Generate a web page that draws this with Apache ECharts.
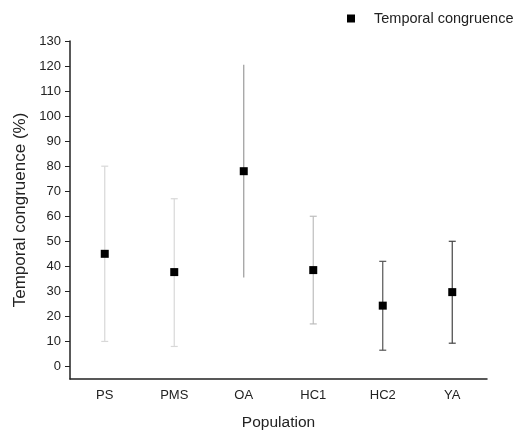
<!DOCTYPE html>
<html><head><meta charset="utf-8">
<script src="https://cdn.jsdelivr.net/npm/echarts@6/dist/echarts.min.js"></script>
<style>html,body{margin:0;padding:0;background:#fff}#c{width:522px;height:431px}</style>
</head><body><div id="c"></div>
<script>
var categories = ['PS','PMS','OA','HC1','HC2','YA'];
var means = [45, 37.7, 78, 38.5, 24.3, 29.7];
var lows = [10, 8, 35.5, 17, 6.5, 9.3];
var highs = [80, 67, 120.5, 60, 42, 50];
var barColors = ['#d8d8d8','#d8d8d8','#9a9a9a','#bdbdbd','#555555','#444444'];
var capWidths = [3.5, 3.5, 0, 3.5, 3.5, 3.5];
var yTicks = [0,10,20,30,40,50,60,70,80,90,100,110,120,130];

var errData = categories.map(function(c,i){return [i, lows[i], highs[i]];});
var chart = echarts.init(document.getElementById('c'));
var font = 'Liberation Sans, Arial, sans-serif';
chart.setOption({
  animation:false,
  textStyle:{fontFamily:font},
  grid:{left:70,right:35,top:41,bottom:52,containLabel:false,outerBoundsMode:'none'},
  legend:{data:['Temporal congruence'],left:342,top:6,icon:'rect',itemWidth:8,itemHeight:8,
    textStyle:{fontSize:14.5,color:'#222',fontFamily:font,padding:[0,0,0,14]}},
  xAxis:{type:'category',data:categories,
    axisLine:{onZero:false,lineStyle:{color:'#222',width:1.5}},
    axisTick:{alignWithLabel:true,length:5,lineStyle:{color:'#222'}},
    axisLabel:{color:'#222',fontSize:13,margin:10,fontFamily:font},
    name:'Population',nameLocation:'middle',nameGap:36,
    nameTextStyle:{fontSize:15.5,color:'#222',fontFamily:font}},
  yAxis:{type:'value',min:-5,max:130,
    splitLine:{show:false},
    axisLine:{show:true,lineStyle:{color:'#222',width:1.5}},
    axisTick:{show:true,length:5,customValues:yTicks,lineStyle:{color:'#222'}},
    axisLabel:{color:'#222',fontSize:13,margin:9,customValues:yTicks,fontFamily:font},
    name:'Temporal congruence (%)',nameLocation:'middle',nameGap:40,
    nameTextStyle:{fontSize:17,color:'#222',fontFamily:font}},
  series:[
    {type:'custom',name:'err',data:errData,z:1,
     renderItem:function(params,api){
       var i=api.value(0);
       var lo=api.coord([i,api.value(1)]);
       var hi=api.coord([i,api.value(2)]);
       var w=capWidths[params.dataIndex];
       var col=barColors[params.dataIndex];
       var st={stroke:col,lineWidth:1.2};
       return {type:'group',children:[
         {type:'line',shape:{x1:lo[0],y1:lo[1],x2:hi[0],y2:hi[1]},style:st},
         {type:'line',shape:{x1:lo[0]-w,y1:lo[1],x2:lo[0]+w,y2:lo[1]},style:st},
         {type:'line',shape:{x1:hi[0]-w,y1:hi[1],x2:hi[0]+w,y2:hi[1]},style:st}
       ]};
     }},
    {type:'scatter',name:'Temporal congruence',data:means,symbol:'rect',symbolSize:8,
     itemStyle:{color:'#000',opacity:1},z:3}
  ]
});
</script></body></html>
